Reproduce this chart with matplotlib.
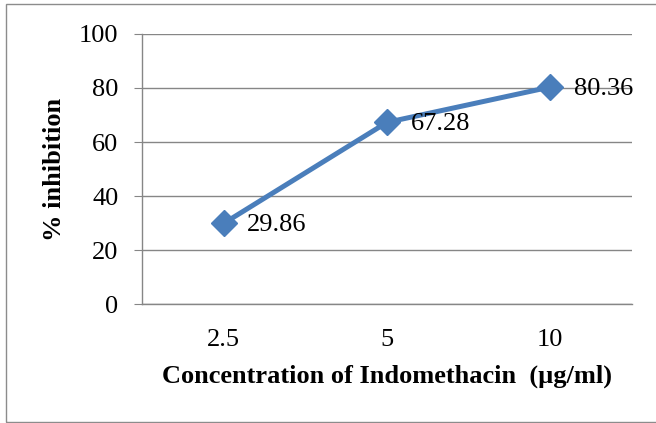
import matplotlib.pyplot as plt
from matplotlib.patches import Rectangle

concentrations = ["2.5", "5", "10"]
inhibition = [29.86, 67.28, 80.36]
y_ticks = [0, 20, 40, 60, 80, 100]

plt.rcParams['font.family'] = ['Liberation Serif', 'DejaVu Serif']

fig = plt.figure(figsize=(6.56, 4.23), dpi=100)
ax = fig.add_axes([142 / 656, 1 - 304 / 423, 490 / 656, 270 / 423])

# chart border, as in the Excel original
fig.patches.append(Rectangle((6 / 656, 1 / 423), 1.0, 418 / 423,
                             transform=fig.transFigure, fill=False,
                             edgecolor="#8c8c8c", linewidth=1.0))

x = range(len(concentrations))
ax.plot(x, inhibition, color="#4a7ebb", linewidth=3.6, marker="D",
        markersize=13, zorder=3, clip_on=False)

for xi, val in zip(x, inhibition):
    ax.annotate(f"{val:.2f}", (xi, val), xytext=(17, -1.5),
                textcoords="offset points", va="center", ha="left",
                fontsize=19)

ax.set_xlim(-0.5, 2.5)
ax.set_ylim(0, 100)
ax.set_yticks(y_ticks)
ax.set_xticks(list(x))
ax.set_xticklabels(concentrations)
ax.tick_params(axis="y", length=6, color="#868686", labelsize=19, pad=11)
ax.tick_params(axis="x", length=0, labelsize=19, pad=18)

ax.grid(axis="y", color="#868686", linewidth=1.0)
ax.set_axisbelow(True)
for side in ["top", "right"]:
    ax.spines[side].set_visible(False)
for side in ["left", "bottom"]:
    ax.spines[side].set_color("#868686")
    ax.spines[side].set_linewidth(1.0)

ax.set_xlabel("Concentration of Indomethacin  (µg/ml)", fontsize=19,
              fontweight="bold", labelpad=10)
ax.set_ylabel("% inhibition", fontsize=19, fontweight="bold", labelpad=9)

plt.savefig("out.png", dpi=100)
